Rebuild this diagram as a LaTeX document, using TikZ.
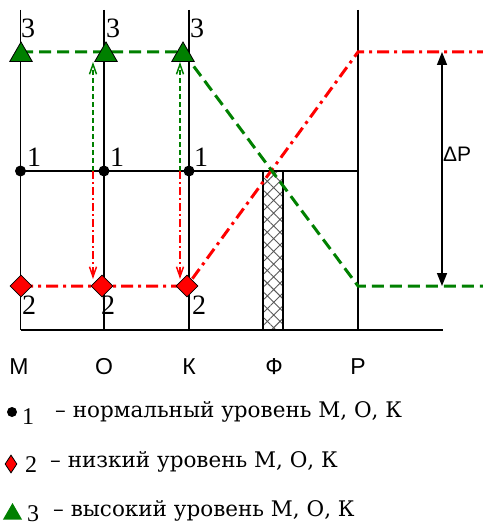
\documentclass[tikz,border=0pt]{standalone}
\usepackage{fontspec}
\setmainfont{DejaVu Serif}
\setsansfont{Liberation Sans}
\newfontfamily\digitfont{Liberation Serif}
\usetikzlibrary{arrows.meta,shapes.geometric,patterns.meta}
\definecolor{lvlgreen}{RGB}{0,128,0}
\definecolor{lvlred}{RGB}{255,0,0}
\begin{document}
\begin{tikzpicture}[x=1bp, y=-1bp,
        every node/.style={inner sep=0pt},
        wall/.style={line width=1.4bp},
        normdot/.style={circle, fill=black, minimum size=11bp},
        lowmark/.style={diamond, draw=black, fill=lvlred, line width=0.8bp,
            minimum width=22bp, minimum height=22bp},
        highmark/.style={regular polygon, regular polygon sides=3, draw=black,
            fill=lvlgreen, line width=0.8bp, minimum size=26bp},
        highline/.style={draw=lvlgreen, line width=3bp, dash pattern=on 12bp off 6bp},
        lowline/.style={draw=lvlred, line width=3bp,
            dash pattern=on 12bp off 5bp on 3bp off 5bp},
        rise/.style={draw=lvlgreen, line width=1.5bp, dash pattern=on 5bp off 3bp,
            -{Straight Barb[length=10bp,width=7bp]}},
        fall/.style={draw=lvlred, line width=1.5bp,
            dash pattern=on 8bp off 3bp on 2bp off 3bp,
            -{Straight Barb[length=10bp,width=7bp]}},
        numlbl/.style={font=\digitfont\fontsize{28bp}{30bp}\selectfont},
        legnum/.style={font=\digitfont\fontsize{24bp}{26bp}\selectfont, anchor=base},
        unitlbl/.style={font=\sffamily\fontsize{23bp}{26bp}\selectfont, anchor=base},
        legtext/.style={font=\fontsize{21.5bp}{24bp}\selectfont, anchor=base west}
      ]
      \useasboundingbox (0,0) rectangle (483,525);
      % grid of vessels
      \foreach \x/\nm in {20.5/M, 104/O, 189/K, 358/P}{
          \coordinate (top\nm) at (\x, 10);
          \coordinate (bot\nm) at (\x, 330);
          \draw[wall] (top\nm) -- (bot\nm);
        }
      \coordinate (baseend) at (443, 330);
      \draw[wall] (botM) -- (baseend);
      \coordinate (normP) at (358, 171);
      \coordinate (normM) at (20.5, 171);
      \draw[wall] (normM) -- (normP);
      % filter
      \draw[line width=1.2bp, pattern={Hatch[angle=45, distance=9bp, line width=0.9bp]},
        pattern color=black!65] (263,171) rectangle (283,330);
      % level lines
      \coordinate (hiM) at (21, 52);
      \coordinate (hiO) at (106, 52);
      \coordinate (hiK) at (183, 52);
      \coordinate (loM) at (21, 286);
      \coordinate (loO) at (102, 286);
      \coordinate (loK) at (187, 286);
      \coordinate (hiP) at (358, 52);
      \coordinate (loP) at (358, 286);
      \coordinate (hiend) at (483, 52);
      \coordinate (loend) at (483, 286);
      \draw[lowline] (loM) -- (loK) -- (hiP) -- (hiend);
      \draw[highline] (hiM) -- (hiK) -- (loP) -- (loend);
      % change of levels
      \foreach \x/\nm in {93/a, 180/b}{
          \coordinate (from\nm) at (\x, 171);
          \coordinate (up\nm) at (\x, 62);
          \coordinate (down\nm) at (\x, 279);
          \draw[rise] (from\nm) -- (up\nm);
          \draw[fall] (from\nm) -- (down\nm);
        }
      % pressure drop
      \coordinate (dpTop) at (442, 52);
      \coordinate (dpBot) at (442, 286);
      \draw[line width=1.5bp, {Triangle[length=13bp,width=10bp]}-{Triangle[length=13bp,width=10bp]}]
        (dpTop) -- (dpBot);
      \node[font=\sffamily\fontsize{21bp}{24bp}\selectfont, anchor=base west] (dp)
        at (443, 162) {ΔP};
      % markers
      \node[normdot] (nM) at (20.5, 171) {};
      \node[normdot] (nO) at (104, 171) {};
      \node[normdot] (nK) at (189, 171) {};
      \node[lowmark] (dM) at (loM) {};
      \node[lowmark] (dO) at (loO) {};
      \node[lowmark] (dK) at (loK) {};
      \node[highmark] (tM) at (21, 55) {};
      \node[highmark] (tO) at (106, 55) {};
      \node[highmark] (tK) at (183, 55) {};
      % level numbers
      \foreach \x/\nm in {28/M, 113/O, 197/K}{
          \node[numlbl] (three\nm) at (\x, 28) {3};
        }
      \foreach \x/\nm in {34/M, 117/O, 201/K}{
          \node[numlbl] (one\nm) at (\x, 157) {1};
        }
      \foreach \x/\nm in {29/M, 108/O, 199/K}{
          \node[numlbl] (two\nm) at (\x, 305) {2};
        }
      % vessel names
      \foreach \x/\nm/\txt in {19/M/М, 104/O/О, 189/K/К, 274/F/Ф, 358/P/Р}{
          \node[unitlbl] (name\nm) at (\x, 374) {\txt};
        }
      % legend
      \node[circle, fill=black, minimum size=10bp] (legdot) at (12, 412) {};
      \node[legnum] (legone) at (28, 424) {1};
      \node[legtext] (legnorm) at (55, 417) {– нормальный уровень М, О, К};
      \node[diamond, draw=black, fill=lvlred, line width=0.8bp,
        minimum width=12bp, minimum height=18bp] (legdia) at (11, 464) {};
      \node[legnum] (legtwo) at (31, 472) {2};
      \node[legtext] (leglow) at (50, 467) {– низкий уровень М, О, К};
      \node[regular polygon, regular polygon sides=3, fill=lvlgreen,
        minimum size=22bp] (legtri) at (12.5, 514) {};
      \node[legnum] (legthree) at (33, 521) {3};
      \node[legtext] (leghigh) at (53, 516) {– высокий уровень М, О, К};
    \end{tikzpicture}
\end{document}
